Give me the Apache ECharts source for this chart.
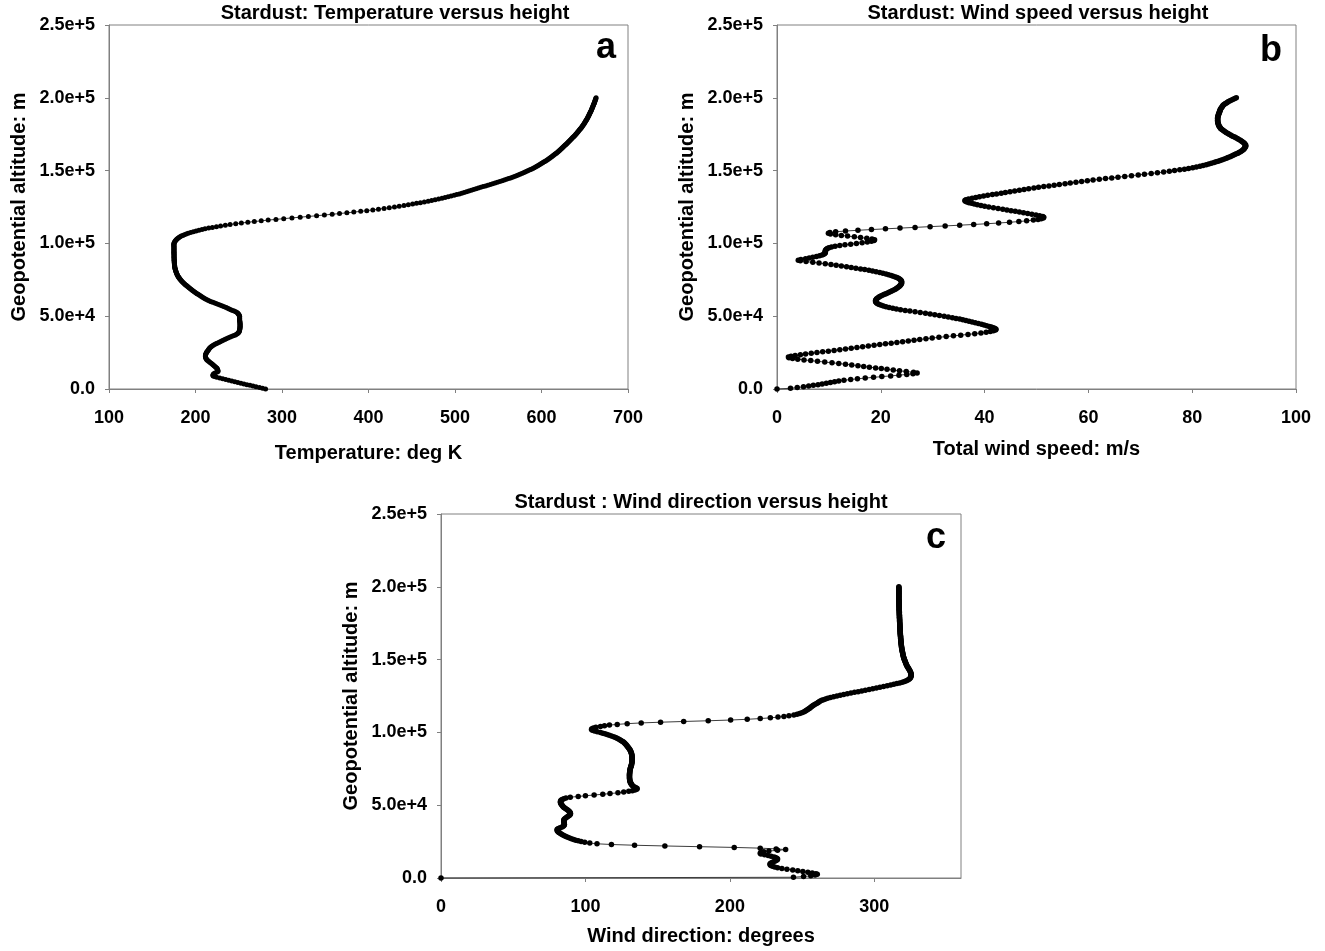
<!DOCTYPE html>
<html>
<head>
<meta charset="utf-8">
<title>Stardust profiles</title>
<script src="https://cdn.jsdelivr.net/npm/echarts@6/dist/echarts.min.js"></script>
<style>
  html, body { margin: 0; padding: 0; background: #ffffff; }
  #chart { width: 1325px; height: 951px; }
</style>
</head>
<body>
<div id="chart"></div>
<script>
// Sounding levels: one sample every 500 m of geopotential altitude, starting at the ground.
const ALT_STEP_M = 500;

// Altitude tick labels (0 to 2.5e5 m every 5e4 m)
const altTickLabels = ['0.0', '5.0e+4', '1.0e+5', '1.5e+5', '2.0e+5', '2.5e+5'];

// Panel a: temperature (K) at each level, ground to 200 km
const tempK = [
  281, 277.5, 274, 270, 266.5, 263, 259.5, 256, 252.5, 249, 245.5, 242, 238.5, 235, 231.5, 228, 224.5, 222, 220.5, 220,
  220.5, 221, 222.5, 224.5, 226, 226, 225.7, 225.3, 225, 224.5, 223.5, 222.5, 221.5, 220.5, 219.6, 218.5, 217.3, 216.2, 215.2, 214.2,
  213.3, 212.7, 212.2, 211.8, 211.6, 211.5, 211.5, 211.6, 211.9, 212.3, 212.7, 213.2, 213.8, 214.4, 215, 215.5, 216.2, 217, 218, 219.2,
  220.5, 222, 223.5, 225, 226.8, 228.5, 230.2, 232, 233.8, 235.5, 237.5, 239.5, 241.5, 243.5, 245.5, 247, 248.3, 249.3, 250, 250.5,
  250.8, 251, 251.2, 251.3, 251.4, 251.5, 251.5, 251.5, 251.5, 251.5, 251.5, 251.4, 251.3, 251.2, 251.1, 251, 251, 251, 251, 251,
  251, 250.7, 250.2, 249.6, 249, 248, 246.5, 244.7, 242.8, 240.9, 239, 237.2, 235.5, 233.3, 231.1, 228.9, 226.7, 224.5, 222.3, 220.1,
  218.1, 216.2, 214.4, 212.7, 211.1, 209.6, 208.2, 206.9, 205.6, 204.3, 203, 201.8, 200.6, 199.4, 198.2, 197, 195.9, 194.8, 193.7, 192.6,
  191.6, 190.6, 189.6, 188.6, 187.7, 186.8, 185.9, 185, 184.2, 183.4, 182.7, 182, 181.4, 180.8, 180.3, 179.8, 179.3, 178.9, 178.5, 178.1,
  177.8, 177.5, 177.2, 176.9, 176.7, 176.5, 176.3, 176.1, 176, 175.9, 175.8, 175.7, 175.6, 175.5, 175.5, 175.4, 175.4, 175.3, 175.3, 175.3,
  175.2, 175.2, 175.2, 175.2, 175.2, 175.2, 175.1, 175.1, 175.1, 175.1, 175.1, 175.1, 175.1, 175.1, 175.1, 175.1, 175.1, 175, 175, 175,
  175, 175.4, 175.8, 176.4, 177, 177.8, 178.6, 179.7, 180.8, 182.1, 183.5, 185.2, 187, 189.2, 191.5, 194.4, 197.5, 200.7, 204, 207.5,
  211, 215.2, 219.5, 224.2, 229, 234.5, 240, 246.5, 253, 260.5, 268, 276, 284, 293, 302, 311.5, 321, 330.5, 340, 349,
  358, 366.5, 375, 383, 391, 398, 405, 411.5, 418, 424, 430, 435.5, 441, 446, 451, 455.5, 460, 464.5, 469, 473,
  477, 481, 485, 488.5, 492, 495.5, 499, 502, 505, 507.8, 510.5, 513.3, 516, 518.8, 521.5, 524.3, 527, 529.8, 532.5, 535.3,
  538, 540.8, 543.5, 546.3, 549, 551.8, 554.5, 557, 559.5, 561.9, 564.2, 566.5, 568.7, 570.9, 573, 575.1, 577.1, 579.1, 581, 582.9,
  584.7, 586.5, 588.2, 589.9, 591.5, 593.1, 594.6, 596.1, 597.5, 598.9, 600.3, 601.7, 603, 604.3, 605.6, 606.9, 608.1, 609.3, 610.5, 611.7,
  612.8, 613.9, 615, 616.1, 617.1, 618.1, 619.1, 620.1, 621, 622, 622.9, 623.8, 624.7, 625.6, 626.5, 627.4, 628.2, 629.1, 629.9, 630.8,
  631.6, 632.5, 633.3, 634.2, 635, 635.8, 636.6, 637.4, 638.2, 639, 639.7, 640.5, 641.2, 641.9, 642.6, 643.3, 644, 644.7, 645.3, 646,
  646.6, 647.2, 647.8, 648.4, 649, 649.6, 650.1, 650.6, 651.1, 651.6, 652.1, 652.6, 653, 653.5, 653.9, 654.4, 654.8, 655.2, 655.6, 656,
  656.4, 656.8, 657.2, 657.6, 657.9, 658.3, 658.6, 659, 659.3, 659.7, 660, 660.4, 660.7, 661, 661.3, 661.6, 661.9, 662.2, 662.5, 662.8,
  663.1
];

// Panel b: total wind speed (m/s) at each level
const windSpeed = [
  0, 2.6, 3.9, 5.1, 6.1, 7.0, 7.9, 8.7, 9.5, 10.3, 11.1, 11.9, 12.9, 14.2, 15.5, 17.0, 18.6, 20.2, 21.9, 23.5,
  25.0, 26.2, 27.0, 26.3, 24.9, 23.6, 22.4, 21.2, 20.1, 19.0, 17.8, 16.7, 15.6, 14.4, 13.2, 11.9, 10.6, 9.2, 7.8, 6.5,
  5.2, 4.0, 3.0, 2.3, 2.2, 2.7, 3.5, 4.5, 5.5, 6.6, 7.7, 8.8, 9.9, 11.0, 12.1, 13.2, 14.3, 15.4, 16.5, 17.6,
  18.7, 19.8, 20.9, 22.0, 23.1, 24.2, 25.3, 26.4, 27.5, 28.7, 29.9, 31.2, 32.6, 34.0, 35.4, 36.8, 38.1, 39.3, 40.3, 41.1,
  41.7, 42.1, 42.2, 42.0, 41.7, 41.3, 40.9, 40.4, 39.9, 39.4, 38.8, 38.2, 37.6, 37.0, 36.4, 35.8, 35.2, 34.5, 33.8, 33.0,
  32.2, 31.3, 30.4, 29.5, 28.6, 27.6, 26.6, 25.6, 24.7, 23.8, 23.0, 22.3, 21.6, 21.0, 20.5, 20.1, 19.7, 19.4, 19.2, 19.1,
  19.0, 19.0, 19.0, 19.1, 19.2, 19.4, 19.6, 19.8, 20.1, 20.4, 20.7, 21.0, 21.3, 21.6, 21.9, 22.2, 22.5, 22.8, 23.0, 23.2,
  23.4, 23.6, 23.7, 23.8, 23.9, 24.0, 24.0, 24.0, 24.0, 23.9, 23.8, 23.6, 23.4, 23.1, 22.8, 22.4, 22.0, 21.5, 21.0, 20.4,
  19.8, 19.1, 18.4, 17.7, 16.9, 16.1, 15.2, 14.3, 13.4, 12.4, 11.4, 10.4, 9.3, 8.1, 6.9, 5.6, 4.5, 4.1, 4.6, 5.5,
  6.2, 6.9, 7.6, 8.2, 8.7, 9.0, 9.2, 9.3, 9.3, 9.3, 9.3, 9.4, 9.5, 9.7, 10.0, 10.5, 11.2, 12.1, 13.1, 14.2,
  15.3, 16.4, 17.4, 18.2, 18.7, 18.8, 18.3, 17.3, 16.1, 14.9, 13.6, 12.4, 11.3, 10.3, 9.9, 10.2, 11.3, 13.2, 15.6, 18.2,
  20.9, 23.7, 26.6, 29.5, 32.4, 35.2, 37.9, 40.4, 42.7, 44.8, 46.6, 48.1, 49.4, 50.3, 50.9, 51.3, 51.4, 51.2, 50.6, 49.9,
  49.1, 48.3, 47.5, 46.7, 45.9, 45.1, 44.3, 43.5, 42.6, 41.7, 40.8, 40.0, 39.3, 38.6, 38.0, 37.5, 37.0, 36.6, 36.3, 36.2,
  36.4, 36.9, 37.6, 38.3, 39.0, 39.8, 40.6, 41.5, 42.3, 43.2, 44.0, 44.9, 45.8, 46.7, 47.6, 48.5, 49.5, 50.4, 51.4, 52.4,
  53.4, 54.4, 55.5, 56.5, 57.6, 58.7, 59.8, 60.9, 62.1, 63.3, 64.5, 65.7, 67.0, 68.3, 69.6, 70.8, 72.1, 73.3, 74.5, 75.6,
  76.6, 77.6, 78.5, 79.3, 80.1, 80.8, 81.5, 82.1, 82.7, 83.2, 83.7, 84.2, 84.6, 85.0, 85.4, 85.8, 86.2, 86.6, 86.9, 87.3,
  87.6, 87.9, 88.2, 88.5, 88.8, 89.0, 89.3, 89.5, 89.7, 89.9, 90.0, 90.1, 90.2, 90.3, 90.3, 90.3, 90.2, 90.1, 90.0, 89.8,
  89.6, 89.4, 89.2, 88.9, 88.7, 88.4, 88.2, 87.9, 87.6, 87.4, 87.1, 86.9, 86.6, 86.4, 86.2, 86.0, 85.8, 85.6, 85.5, 85.4,
  85.3, 85.2, 85.1, 85.1, 85.0, 85.0, 84.95, 84.9, 84.9, 84.9, 84.9, 84.9, 84.9, 84.9, 84.95, 85.0, 85.0, 85.1, 85.1, 85.2,
  85.2, 85.3, 85.3, 85.4, 85.4, 85.5, 85.6, 85.7, 85.8, 85.9, 86.0, 86.2, 86.4, 86.6, 86.8, 87.0, 87.3, 87.6, 87.9, 88.2,
  88.5
];

// Panel c: wind direction (degrees) at each level
const windDir = [
  0, 244, 251, 256, 259, 260.5, 259.5, 257, 254, 250.5, 247, 243.5, 239.5, 236, 233, 231, 229.5, 228.5, 228, 227.8,
  228, 228.8, 229.8, 231, 232, 232.8, 233, 232.5, 231.5, 230.5, 228.5, 226.5, 224, 221.5, 221, 221.5, 223.5, 227, 233, 238.6,
  232, 221, 203, 179, 155, 134, 118, 108, 103, 99.5, 97, 95, 93.3, 91.8, 90.3, 89, 87.7, 86.5, 85.4, 84.4,
  83.5, 82.7, 82, 81.4, 80.9, 80.5, 80.4, 80.5, 81.3, 82.5, 83.8, 84.6, 85.1, 85.4, 85.4, 85.3, 85.2, 85.1, 85, 85,
  85.1, 85.5, 86.1, 86.8, 87.5, 88.2, 88.8, 89.3, 89.6, 89.6, 89.4, 89.0, 88.5, 87.9, 87.2, 86.4, 85.7, 85.1, 84.6, 84.2,
  83.8, 83.4, 83.1, 82.8, 82.7, 82.7, 82.9, 83.3, 84, 85, 86.5, 89.5, 95, 100, 106, 112, 117, 122.5, 126.5, 130,
  132.5, 134.3, 135.5, 135.8, 135, 134, 133, 132.5, 132, 131.7, 131.5, 131.2, 131, 130.8, 130.7, 130.6, 130.6, 130.5, 130.5, 130.5,
  130.5, 130.5, 130.5, 130.5, 130.6, 130.6, 130.7, 130.7, 130.8, 130.9, 131, 131.2, 131.3, 131.5, 131.6, 131.8, 131.9, 132, 132.1, 132.2,
  132.2, 132.3, 132.3, 132.3, 132.3, 132.3, 132.3, 132.2, 132.2, 132.1, 132, 131.9, 131.7, 131.5, 131.3, 131.1, 130.8, 130.5, 130.2, 129.8,
  129.4, 129, 128.6, 128.2, 127.7, 127.2, 126.7, 126.1, 125.4, 124.6, 123.8, 122.9, 121.9, 120.8, 119.5, 118, 116.5, 115, 113.5, 112,
  110.4, 108.2, 106.3, 104.8, 104.2, 104.5, 105.5, 107.2, 110.4, 113.2, 116.6, 122, 128.9, 138.6, 152, 168, 185, 200.5, 212, 221,
  228, 233.3, 237.4, 240.9, 244.3, 246.5, 248.3, 249.8, 251.1, 252, 252.8, 253.6, 254.3, 255, 255.6, 256.2, 256.9, 257.6, 258.4, 259.3,
  260.3, 261.1, 261.8, 262.6, 263.6, 264.8, 266.2, 267.7, 269.6, 271.8, 274.1, 276.4, 278.8, 281.3, 283.8, 286.3, 288.8, 291.3, 293.8, 296.4,
  298.9, 301.4, 303.9, 306.4, 308.9, 311.3, 313.5, 315.6, 317.6, 319.4, 320.9, 322.2, 323.2, 324, 324.6, 325, 325.2, 325.4, 325.5, 325.5,
  325.5, 325.4, 325.2, 325, 324.8, 324.5, 324.2, 323.9, 323.6, 323.3, 323, 322.7, 322.5, 322.2, 322, 321.8, 321.6, 321.4, 321.2, 321,
  320.8, 320.6, 320.5, 320.3, 320.2, 320, 319.9, 319.8, 319.7, 319.6, 319.5, 319.4, 319.3, 319.2, 319.1, 319, 318.9, 318.9, 318.8, 318.7,
  318.7, 318.6, 318.6, 318.5, 318.5, 318.4, 318.4, 318.3, 318.3, 318.2, 318.2, 318.2, 318.1, 318.1, 318, 318, 318, 317.9, 317.9, 317.9,
  317.8, 317.8, 317.8, 317.8, 317.7, 317.7, 317.7, 317.7, 317.6, 317.6, 317.6, 317.6, 317.5, 317.5, 317.5, 317.5, 317.5, 317.4, 317.4, 317.4,
  317.4, 317.4, 317.3, 317.3, 317.3, 317.3, 317.3, 317.2, 317.2, 317.2, 317.2, 317.2, 317.2, 317.1, 317.1, 317.1, 317.1, 317.1, 317.1, 317.1,
  317.1, 317.1, 317, 317, 317, 317, 317, 317, 317, 317, 317, 317, 317, 317, 317, 317, 317, 317, 317, 317,
  317
];

// Panel texts
const panelTitles = [
  'Stardust: Temperature versus height',
  'Stardust: Wind speed versus height',
  'Stardust : Wind direction versus height'
];
const panelLetters = ['a', 'b', 'c'];
const xAxisNames = ['Temperature: deg K', 'Total wind speed: m/s', 'Wind direction: degrees'];
const yAxisName = 'Geopotential altitude: m';

const FONT = "'Liberation Sans', Arial, Helvetica, sans-serif";
const AXIS_GREY = '#808080';

// Pair each value with its sounding altitude
function profile(values) {
  return values.map((v, i) => [v, i * ALT_STEP_M]);
}

// Plot boxes in page pixels: [left, top, width, height]
const boxes = [
  [109, 25, 519, 364],
  [777, 25, 519, 364],
  [441, 514, 520, 364]
];
const xRanges = [
  { min: 100, max: 700, interval: 100 },
  { min: 0, max: 100, interval: 20 },
  { min: 0, max: 360, interval: 100 }
];
const xNameGaps = [54, 50, 48];
const dotSizes = [5, 5.5, 5.5];

const grids = boxes.map(b => ({
  left: b[0], top: b[1], width: b[2], height: b[3],
  show: true, borderColor: AXIS_GREY, borderWidth: 1,
  backgroundColor: 'rgba(0,0,0,0)', containLabel: false
}));

const xAxes = xRanges.map((r, i) => ({
  type: 'value', gridIndex: i,
  min: r.min, max: r.max, interval: r.interval,
  axisLine: { show: true, onZero: false, lineStyle: { color: AXIS_GREY, width: 1 } },
  axisTick: { show: true, length: 4, lineStyle: { color: AXIS_GREY } },
  splitLine: { show: false },
  axisLabel: {
    margin: 20, fontSize: 18, fontWeight: 'bold', color: '#000', fontFamily: FONT,
    showMaxLabel: i !== 2
  },
  name: xAxisNames[i], nameLocation: 'middle', nameGap: xNameGaps[i],
  nameTextStyle: { fontSize: 20, fontWeight: 'bold', color: '#000', fontFamily: FONT }
}));

const yAxes = boxes.map((b, i) => ({
  type: 'value', gridIndex: i,
  min: 0, max: 250000, interval: 50000,
  axisLine: { show: true, onZero: false, lineStyle: { color: AXIS_GREY, width: 1 } },
  axisTick: { show: true, length: 4, lineStyle: { color: AXIS_GREY } },
  splitLine: { show: false },
  axisLabel: {
    margin: 14, fontSize: 18, fontWeight: 'bold', color: '#000', fontFamily: FONT,
    formatter: v => altTickLabels[Math.round(v / 50000)]
  },
  name: yAxisName, nameLocation: 'middle', nameGap: 80, nameRotate: 90,
  nameTextStyle: { fontSize: 20, fontWeight: 'bold', color: '#000', fontFamily: FONT }
}));

const seriesValues = [tempK, windSpeed, windDir];
const series = seriesValues.map((vals, i) => ({
  type: 'line', xAxisIndex: i, yAxisIndex: i,
  data: profile(vals),
  symbol: 'circle', symbolSize: dotSizes[i], showSymbol: true, showAllSymbol: true,
  itemStyle: { color: '#000' },
  lineStyle: { color: '#3c3c3c', width: 1 },
  clip: false, silent: true, animation: false
}));

// Titles above each box and the bold panel letters inside them
const titleCenters = [[395, 3], [1038, 3], [701, 492]];
const letterPos = [[606, 30], [1271, 33], [936, 520]];
const titles = panelTitles.map((t, i) => ({
  text: t, left: titleCenters[i][0], top: titleCenters[i][1], textAlign: 'center',
  padding: 0,
  textStyle: { fontSize: 20, fontWeight: 'bold', color: '#000', fontFamily: FONT }
})).concat(panelLetters.map((t, i) => ({
  text: t, left: letterPos[i][0], top: letterPos[i][1], textAlign: 'center',
  padding: 0,
  textStyle: { fontSize: 36, fontWeight: 'bold', color: '#000', fontFamily: FONT }
})));

const chart = echarts.init(document.getElementById('chart'), null, { renderer: 'canvas' });
chart.setOption({
  backgroundColor: '#ffffff',
  animation: false,
  title: titles,
  grid: grids,
  xAxis: xAxes,
  yAxis: yAxes,
  series: series
});
</script>
</body>
</html>
